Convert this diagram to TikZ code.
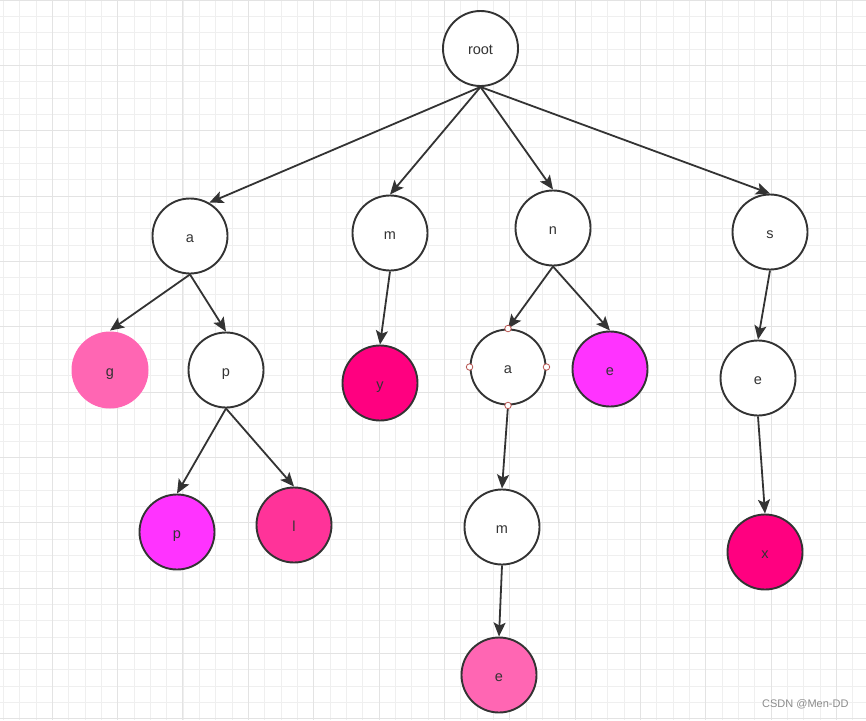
\documentclass[tikz,border=0pt]{standalone}
\usepackage{fontspec}
\setmainfont{Liberation Sans}
\usetikzlibrary{arrows.meta}
\definecolor{ink}{HTML}{333333}
\definecolor{gridminor}{HTML}{EFEFEF}
\definecolor{gridmajor}{HTML}{E3E3E3}
\definecolor{hotpink}{HTML}{FF66B3}
\definecolor{deeppink}{HTML}{FF0080}
\definecolor{violetpink}{HTML}{FF33FF}
\definecolor{rosepink}{HTML}{FF3399}
\definecolor{handle}{HTML}{B85450}
\tikzset{
  tnode/.style={circle, draw=ink, line width=1.9pt, fill=white, minimum size=75pt, inner sep=0pt, text=ink, font=\fontsize{14.5}{16}\selectfont, text height=12pt, text depth=0pt},
  edge/.style={draw=ink, line width=1.8pt, -{Stealth[length=14pt,width=12pt,inset=3pt]}},
  handlept/.style={circle, draw=handle, fill=white, line width=0.8pt, minimum size=6.5pt, inner sep=0pt},
}
\begin{document}
\begin{tikzpicture}[x=1pt,y=-1pt]
\useasboundingbox (0,0) rectangle (866,720);
\fill[white] (0,0) rectangle (866,720);
% grid
\foreach \i in {0,...,53} {\draw[gridminor, line width=0.9pt] (3.33+\i*16.333,0) -- ++(0,720);}
\foreach \j in {0,...,44} {\draw[gridminor, line width=0.9pt] (0,\j*16.333) -- ++(866,0);}
\foreach \i in {0,...,13} {\draw[gridmajor, line width=1pt] (52.33+\i*65.333,0) -- ++(0,720);}
\foreach \j in {0,...,11} {\draw[gridmajor, line width=1pt] (0,\j*65.333) -- ++(866,0);}
% nodes
\node[tnode] (root) at (480.5,48.5) {root};
\node[tnode] (a) at (190,236) {a};
\node[tnode] (m) at (390,233) {m};
\node[tnode] (n) at (553,228) {n};
\node[tnode] (s) at (770,232) {s};
\node[tnode, draw=none, fill=hotpink, minimum size=77pt] (g) at (110,370) {g};
\node[tnode] (p) at (226,370) {p};
\node[tnode, fill=deeppink] (y) at (380,383) {y};
\node[tnode] (a2) at (508,367) {a};
\node[tnode, fill=violetpink] (en) at (610,369) {e};
\node[tnode] (es) at (758,378) {e};
\node[tnode, fill=violetpink] (p2) at (177,532) {p};
\node[tnode, fill=rosepink] (l) at (294,525) {l};
\node[tnode] (m2) at (502,527) {m};
\node[tnode, fill=hotpink] (e2) at (499,675) {e};
\node[tnode, fill=deeppink] (x) at (765,552) {x};
% edges
\draw[edge] (root.south) -- (a.60);
\draw[edge] (root.south) -- (m.north);
\draw[edge] (root.south) -- (n.north);
\draw[edge] (root.south) -- (s.north);
\draw[edge] (a.south) -- (g.north);
\draw[edge] (a.south) -- (p.north);
\draw[edge] (p.south) -- (p2.north);
\draw[edge] (p.south) -- (l.north);
\draw[edge] (m.south) -- (y.north);
\draw[edge] (n.south) -- (a2.north);
\draw[edge] (n.south) -- (en.north);
\draw[edge] (a2.south) -- (m2.north);
\draw[edge] (m2.south) -- (e2.north);
\draw[edge] (s.south) -- (es.north);
\draw[edge] (es.south) -- (x.north);
% selection handles
\node[handlept] (h1) at (a2.north) {};
\node[handlept] (h2) at (a2.south) {};
\node[handlept] (h3) at (a2.west) {};
\node[handlept] (h4) at (a2.east) {};
% watermark
\node[text=black!45, font=\fontsize{11}{13}\selectfont, anchor=east] (wm) at (852,704) {CSDN @Men-DD};
\end{tikzpicture}
\end{document}
